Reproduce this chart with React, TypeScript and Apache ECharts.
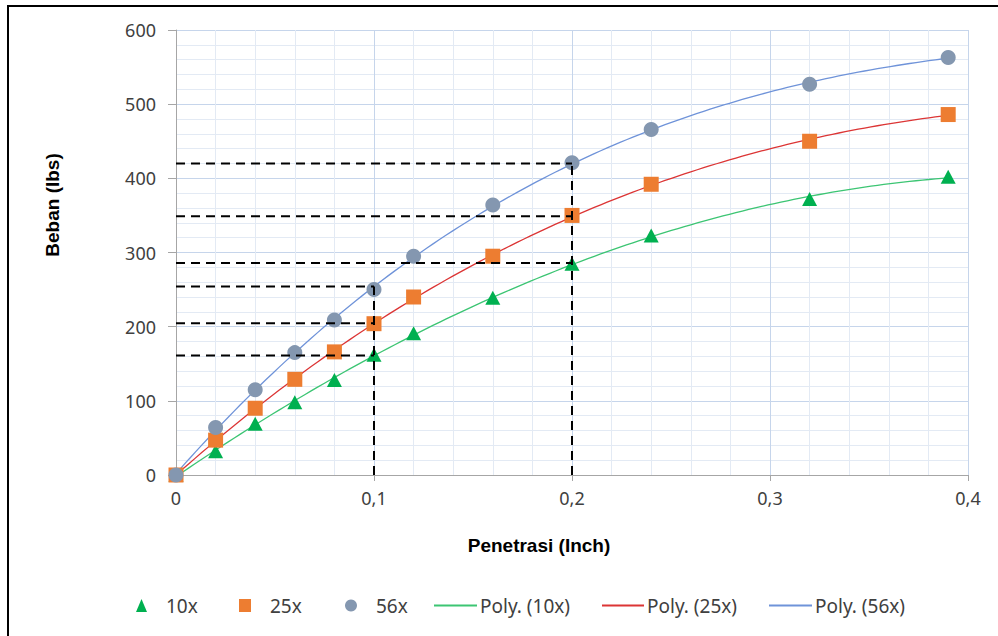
import React, { useEffect, useRef } from "react";
import * as echarts from "echarts";

// ---- Data ----
const penetrasi = [0, 0.02, 0.04, 0.06, 0.08, 0.1, 0.12, 0.16, 0.2, 0.24, 0.32, 0.39];
const beban10 = [0, 32, 69, 98, 128, 162, 191, 239, 285, 323, 372, 402];
const beban25 = [0, 47, 90, 129, 166, 204, 240, 295, 350, 392, 450, 486];
const beban56 = [0, 64, 115, 165, 209, 250, 295, 364, 421, 466, 527, 563];

const seriesNames = ["10x", "25x", "56x"];
const trendNames = ["Poly. (10x)", "Poly. (25x)", "Poly. (56x)"];
const trendOrder = 3;

// reference (dashed) read-offs
const refPenetrasi = [0.1, 0.2];
const refBeban01 = [161, 204.5, 254];
const refBeban02 = [286, 349, 420];

const xTicks = [0, 0.1, 0.2, 0.3, 0.4];
const yTicks = [0, 100, 200, 300, 400, 500, 600];

// ---- polynomial least-squares trend, like the spreadsheet's "Poly." trendline ----
function polyFit(xs: number[], ys: number[], order: number) {
  const m = order + 1;
  const A: number[][] = [];
  for (let r = 0; r < m; r++) {
    const row: number[] = [];
    for (let c = 0; c < m; c++) {
      let s = 0;
      for (let i = 0; i < xs.length; i++) s += Math.pow(xs[i], r + c);
      row.push(s);
    }
    let t = 0;
    for (let i = 0; i < xs.length; i++) t += Math.pow(xs[i], r) * ys[i];
    row.push(t);
    A.push(row);
  }
  for (let c = 0; c < m; c++) {
    let p = c;
    for (let r = c + 1; r < m; r++) if (Math.abs(A[r][c]) > Math.abs(A[p][c])) p = r;
    [A[c], A[p]] = [A[p], A[c]];
    for (let r = 0; r < m; r++) {
      if (r === c) continue;
      const f = A[r][c] / A[c][c];
      for (let k = c; k <= m; k++) A[r][k] -= f * A[c][k];
    }
  }
  return A.map((row, i) => row[m] / row[i]);
}

function trendData(xs: number[], ys: number[]) {
  const coef = polyFit(xs, ys, trendOrder);
  const xMin = xs[0], xMax = xs[xs.length - 1];
  const n = 120;
  const out: number[][] = [];
  for (let i = 0; i <= n; i++) {
    const x = xMin + ((xMax - xMin) * i) / n;
    let y = 0;
    coef.forEach((c, k) => (y += c * Math.pow(x, k)));
    out.push([x, y]);
  }
  return out;
}

const pairs = (ys: number[]) => penetrasi.map((x, i) => [x, ys[i]]);

const markerColors = ["#00b050", "#ed7d31", "#8497b0"];
const markerSymbols = ["triangle", "rect", "circle"];
const markerSizes: any[] = [[15, 14], 15, 15];
const trendColors = ["#3cc573", "#dc3535", "#6f93d9"];

export default function App() {
  const ref = useRef<HTMLDivElement>(null);

  useEffect(() => {
    if (!ref.current) return;
    const chart = echarts.init(ref.current, undefined, { renderer: "svg" });

    const data = [beban10, beban25, beban56];

    const trendSeries = data.map((ys, i) => ({
      name: trendNames[i],
      type: "line",
      data: trendData(penetrasi, ys),
      showSymbol: false,
      symbol: "none",
      smooth: false,
      lineStyle: { color: trendColors[i], width: 1.3 },
      itemStyle: { color: trendColors[i] },
      z: 2,
    }));

    const scatterSeries = data.map((ys, i) => ({
      name: seriesNames[i],
      type: "scatter",
      data: pairs(ys),
      symbol: markerSymbols[i],
      symbolSize: markerSizes[i],
      itemStyle: { color: markerColors[i], opacity: 1 },
      z: 3,
    }));

    const dashed = { color: "#000", width: 2, type: [9, 6] as any };
    const refSegments: number[][][] = [];
    const groups = [
      { x: refPenetrasi[0], ys: refBeban01 },
      { x: refPenetrasi[1], ys: refBeban02 },
    ];
    groups.forEach((g) => {
      g.ys.forEach((y) => refSegments.push([[0, y], [g.x, y]]));
      refSegments.push([[g.x, 0], [g.x, Math.max(...g.ys)]]);
    });
    const refSeries = refSegments.map((seg) => ({
      type: "line",
      data: seg,
      symbol: "none",
      lineStyle: dashed,
      silent: true,
      z: 4,
    }));

    const legendText = { fontFamily: "Noto Sans", fontSize: 19, color: "#404040" };
    const markerLegend = [
      { left: 136, w: 11 },
      { left: 239, w: 12 },
      { left: 345, w: 12 },
    ].map((p, i) => ({
      left: p.left,
      top: 596,
      padding: 0,
      itemWidth: p.w,
      itemHeight: 13,
      data: [{ name: seriesNames[i], icon: markerSymbols[i] }],
      textStyle: { ...legendText, padding: [0, 0, 0, 14] },
      selectedMode: false,
    }));
    const lineLegend = [
      { left: 434, w: 43 },
      { left: 602, w: 42 },
      { left: 769, w: 43 },
    ].map((p, i) => ({
      left: p.left,
      top: 596,
      padding: 0,
      itemWidth: p.w,
      itemHeight: 2,
      data: [{ name: trendNames[i], icon: "rect" }],
      textStyle: { ...legendText, padding: [0, 0, 0, -2] },
      selectedMode: false,
    }));

    const axisGray = "#a6a6a6";
    const tickFont = { fontFamily: "Noto Sans", fontSize: 18, color: "#404040" };

    chart.setOption({
      animation: false,
      backgroundColor: "#ffffff",
      grid: { left: 176, right: 30, top: 30, bottom: 161, containLabel: false },
      xAxis: {
        type: "value",
        min: xTicks[0],
        max: xTicks[xTicks.length - 1],
        interval: 0.1,
        axisLine: { show: true, onZero: false, lineStyle: { color: axisGray, width: 1 } },
        axisTick: { show: true, length: 6, lineStyle: { color: axisGray } },
        minorTick: { show: false, splitNumber: 5 },
        splitLine: { show: true, lineStyle: { color: "#c6d5eb", width: 1 } },
        minorSplitLine: { show: true, lineStyle: { color: "#e3eaf4", width: 1 } },
        axisLabel: {
          ...tickFont,
          margin: 14,
          formatter: (v: number) => (v === 0 ? "0" : v.toFixed(1).replace(".", ",")),
        },
      },
      yAxis: {
        type: "value",
        min: yTicks[0],
        max: yTicks[yTicks.length - 1],
        interval: 100,
        axisLine: { show: true, onZero: false, lineStyle: { color: axisGray, width: 1 } },
        axisTick: { show: true, length: 8, lineStyle: { color: axisGray } },
        minorTick: { show: false, splitNumber: 5 },
        splitLine: { show: true, lineStyle: { color: "#c6d5eb", width: 1 } },
        minorSplitLine: { show: true, lineStyle: { color: "#e3eaf4", width: 1 } },
        axisLabel: { ...tickFont, margin: 20 },
      },
      legend: [...markerLegend, ...lineLegend],
      graphic: [
        {
          type: "line",
          shape: { x1: 8, y1: 6, x2: 8, y2: 640 },
          style: { stroke: "#000", lineWidth: 2 },
          silent: true,
        },
        {
          type: "line",
          shape: { x1: 7, y1: 6, x2: 1000, y2: 6 },
          style: { stroke: "#000", lineWidth: 2 },
          silent: true,
        },
        {
          type: "text",
          x: 539,
          y: 545,
          style: {
            text: "Penetrasi (Inch)",
            font: "bold 19px 'Liberation Sans', Arial, sans-serif",
            fill: "#000",
            textAlign: "center",
            textVerticalAlign: "middle",
          },
          silent: true,
        },
        {
          type: "text",
          x: 52,
          y: 205,
          rotation: Math.PI / 2,
          style: {
            text: "Beban (lbs)",
            font: "bold 19px 'Liberation Sans', Arial, sans-serif",
            fill: "#000",
            textAlign: "center",
            textVerticalAlign: "middle",
          },
          silent: true,
        },
      ],
      series: [...trendSeries, ...scatterSeries, ...refSeries],
    });

    return () => chart.dispose();
  }, []);

  return (
    <div
      ref={ref}
      style={{ position: "fixed", left: 0, top: 0, width: 998, height: 636, background: "#fff" }}
    />
  );
}
